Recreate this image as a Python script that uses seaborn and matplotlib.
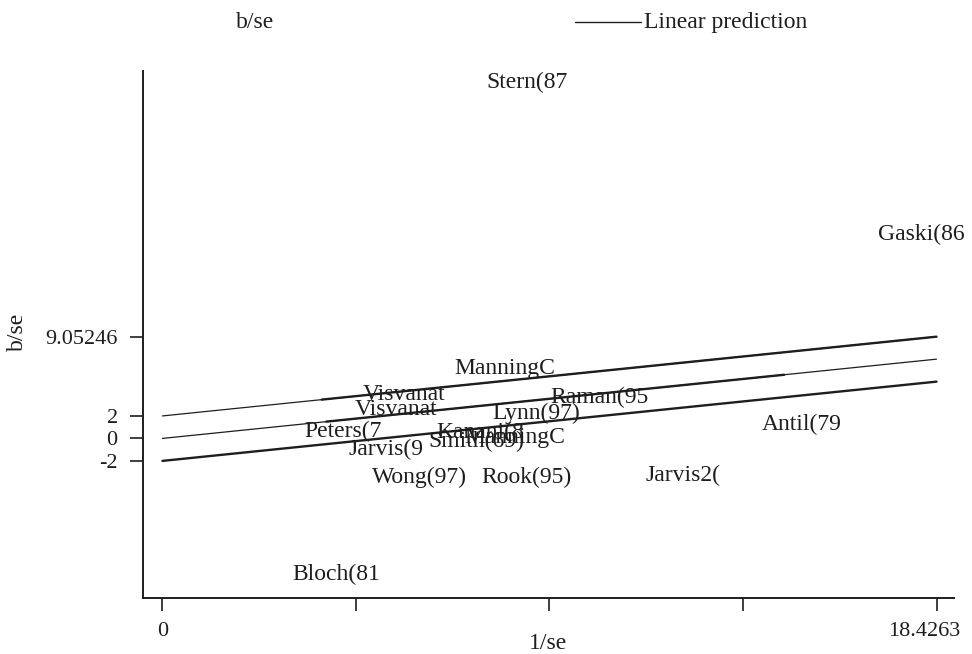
import numpy as np
import pandas as pd
import matplotlib
matplotlib.use('Agg')
import matplotlib.pyplot as plt
import matplotlib.transforms as mtransforms
import seaborn as sns

# study labels and their (1/se, b/se) positions
labels = ['Stern(87', 'Gaski(86', 'ManningC', 'Visvanat', 'Visvanat', 'Raman(95',
          'Lynn(97)', 'Peters(7', 'Antil(79', 'Kanani(8', 'Smith(69)', 'ManningC',
          'Jarvis(9', 'Wong(97)', 'Rook(95)', 'Jarvis2(', 'Bloch(81']
inv_se = [8.67, 18.07, 8.14, 5.76, 5.57, 10.40, 8.90, 4.29, 15.21, 7.56, 7.47, 8.38,
          5.31, 6.12, 8.67, 12.38, 4.14]
b_se = [31.67, 18.16, 6.25, 3.94, 2.60, 3.67, 2.25, 0.65, 1.27, 0.56, -0.24, 0.12,
        -0.95, -3.43, -3.43, -3.26, -12.06]

xmax = 18.4263
slope = 7.05246 / xmax
offsets = [2, 0, -2]
xticks = [0, xmax / 4, xmax / 2, 3 * xmax / 4, xmax]
xticklabels = ['0', '', '', '', '18.4263']
yticks = [9.05246, 2, 0, -2]
yticklabels = ['9.05246', '2', '0', '-2']

ink = '#1e1e1e'
sns.set_theme(style='white')
plt.rcParams['font.family'] = ['Liberation Serif', 'DejaVu Serif']

fig = plt.figure(figsize=(9.72, 6.54), dpi=100)
ax = fig.add_axes([0.1468, 0.0856, 0.835, 0.806])

xs = np.array([0, xmax])
for off in offsets:
    lw = 1.7 if off == -2 else 0.9
    sns.lineplot(x=xs, y=off + slope * xs, color=ink, lw=lw, ax=ax)

# heavier fitted segments over the data range
seg_top = np.array([3.79, xmax])
seg_mid = np.array([3.9, 14.8])
sns.lineplot(x=seg_top, y=2 + slope * seg_top, color=ink, lw=1.7, ax=ax)
sns.lineplot(x=seg_mid, y=slope * seg_mid, color=ink, lw=1.7, ax=ax)

for lab, x, y in zip(labels, inv_se, b_se):
    ax.text(x, y, lab, ha='center', va='center', fontsize=17, color=ink)

ax.set_xlim(-0.47, 18.85)
ax.set_ylim(-14.2, 32.7)
ax.set_xticks(xticks)
ax.set_xticklabels(xticklabels)
ax.set_yticks(yticks)
ax.set_yticklabels(yticklabels)
ax.tick_params(axis='both', direction='out', length=9.5, width=1.2, color=ink,
               labelcolor=ink, labelsize=16, bottom=True, left=True)
ax.tick_params(axis='y', pad=8.5)
ax.tick_params(axis='x', pad=8)
# keep the last x tick label inside the figure
last = ax.get_xticklabels()[-1]
last.set_transform(last.get_transform() +
                   mtransforms.ScaledTranslation(-0.12, 0, fig.dpi_scale_trans))
for s in ['top', 'right']:
    ax.spines[s].set_visible(False)
for s in ['left', 'bottom']:
    ax.spines[s].set_color(ink)
    ax.spines[s].set_linewidth(1.4)

ax.set_xlabel('1/se', fontsize=17, color=ink)
ax.xaxis.set_label_coords(548 / 972, 1 - 633 / 654, transform=fig.transFigure)
ax.set_ylabel('b/se', fontsize=17, color=ink)
ax.yaxis.set_label_coords(28 / 972, 1 - 332 / 654, transform=fig.transFigure)

# legend row
fig.text(0.262, 0.966, 'b/se', fontsize=17, ha='center', va='center', color=ink)
fig.add_artist(plt.Line2D([0.592, 0.659], [0.966, 0.966], color=ink, lw=1.0,
                          transform=fig.transFigure))
fig.text(0.663, 0.966, 'Linear prediction', fontsize=17, ha='left', va='center',
         color=ink)

plt.savefig('out.png', dpi=100)
